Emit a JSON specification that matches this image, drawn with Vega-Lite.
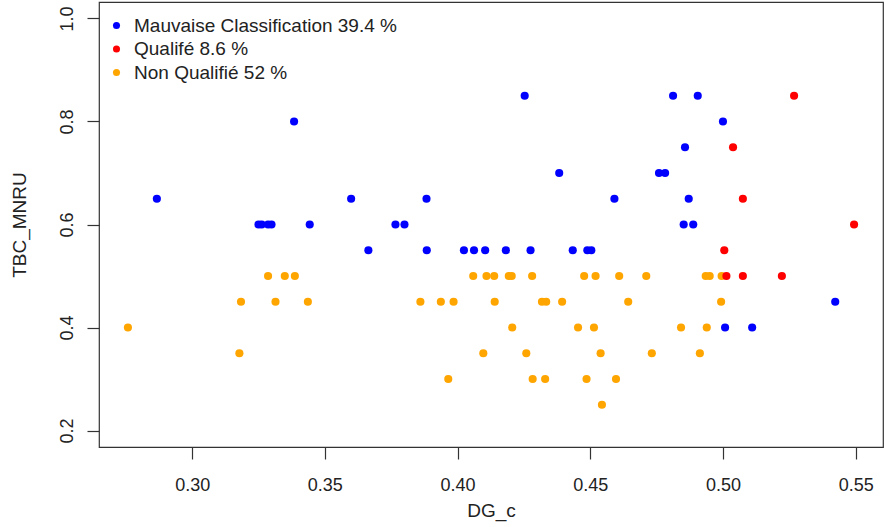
{
  "$schema": "https://vega.github.io/schema/vega-lite/v6.json",
  "autosize": {"type": "none"},
  "width": 784,
  "height": 445,
  "padding": {"left": 99, "top": 2, "right": 1, "bottom": 80},
  "background": "white",
  "config": {
    "view": {"stroke": "#333", "strokeWidth": 1.2},
    "font": "Liberation Sans",
    "axis": {
      "grid": false,
      "domain": false,
      "tickColor": "#333",
      "tickWidth": 1.2,
      "tickSize": 12,
      "labelFont": "Liberation Sans",
      "labelFontSize": 18,
      "labelColor": "#222",
      "titleFont": "Liberation Sans",
      "titleFontSize": 19,
      "titleFontWeight": "normal",
      "titleColor": "#222",
      "labelFlush": false,
      "labelOverlap": false
    }
  },
  "data": {
    "values": [
      {"DG_c": 0.4253, "TBC_MNRU": 0.85, "classe": "Mauvaise Classification"},
      {"DG_c": 0.4812, "TBC_MNRU": 0.85, "classe": "Mauvaise Classification"},
      {"DG_c": 0.4905, "TBC_MNRU": 0.85, "classe": "Mauvaise Classification"},
      {"DG_c": 0.3384, "TBC_MNRU": 0.8, "classe": "Mauvaise Classification"},
      {"DG_c": 0.5000, "TBC_MNRU": 0.8, "classe": "Mauvaise Classification"},
      {"DG_c": 0.4857, "TBC_MNRU": 0.75, "classe": "Mauvaise Classification"},
      {"DG_c": 0.4383, "TBC_MNRU": 0.7, "classe": "Mauvaise Classification"},
      {"DG_c": 0.4759, "TBC_MNRU": 0.7, "classe": "Mauvaise Classification"},
      {"DG_c": 0.4782, "TBC_MNRU": 0.7, "classe": "Mauvaise Classification"},
      {"DG_c": 0.2867, "TBC_MNRU": 0.65, "classe": "Mauvaise Classification"},
      {"DG_c": 0.3599, "TBC_MNRU": 0.65, "classe": "Mauvaise Classification"},
      {"DG_c": 0.3883, "TBC_MNRU": 0.65, "classe": "Mauvaise Classification"},
      {"DG_c": 0.4591, "TBC_MNRU": 0.65, "classe": "Mauvaise Classification"},
      {"DG_c": 0.4871, "TBC_MNRU": 0.65, "classe": "Mauvaise Classification"},
      {"DG_c": 0.3250, "TBC_MNRU": 0.6, "classe": "Mauvaise Classification"},
      {"DG_c": 0.3262, "TBC_MNRU": 0.6, "classe": "Mauvaise Classification"},
      {"DG_c": 0.3286, "TBC_MNRU": 0.6, "classe": "Mauvaise Classification"},
      {"DG_c": 0.3299, "TBC_MNRU": 0.6, "classe": "Mauvaise Classification"},
      {"DG_c": 0.3443, "TBC_MNRU": 0.6, "classe": "Mauvaise Classification"},
      {"DG_c": 0.3766, "TBC_MNRU": 0.6, "classe": "Mauvaise Classification"},
      {"DG_c": 0.3800, "TBC_MNRU": 0.6, "classe": "Mauvaise Classification"},
      {"DG_c": 0.4852, "TBC_MNRU": 0.6, "classe": "Mauvaise Classification"},
      {"DG_c": 0.4888, "TBC_MNRU": 0.6, "classe": "Mauvaise Classification"},
      {"DG_c": 0.3664, "TBC_MNRU": 0.55, "classe": "Mauvaise Classification"},
      {"DG_c": 0.3884, "TBC_MNRU": 0.55, "classe": "Mauvaise Classification"},
      {"DG_c": 0.4024, "TBC_MNRU": 0.55, "classe": "Mauvaise Classification"},
      {"DG_c": 0.4062, "TBC_MNRU": 0.55, "classe": "Mauvaise Classification"},
      {"DG_c": 0.4104, "TBC_MNRU": 0.55, "classe": "Mauvaise Classification"},
      {"DG_c": 0.4182, "TBC_MNRU": 0.55, "classe": "Mauvaise Classification"},
      {"DG_c": 0.4275, "TBC_MNRU": 0.55, "classe": "Mauvaise Classification"},
      {"DG_c": 0.4434, "TBC_MNRU": 0.55, "classe": "Mauvaise Classification"},
      {"DG_c": 0.4489, "TBC_MNRU": 0.55, "classe": "Mauvaise Classification"},
      {"DG_c": 0.4504, "TBC_MNRU": 0.55, "classe": "Mauvaise Classification"},
      {"DG_c": 0.5423, "TBC_MNRU": 0.45, "classe": "Mauvaise Classification"},
      {"DG_c": 0.5008, "TBC_MNRU": 0.4, "classe": "Mauvaise Classification"},
      {"DG_c": 0.5110, "TBC_MNRU": 0.4, "classe": "Mauvaise Classification"},
      {"DG_c": 0.3286, "TBC_MNRU": 0.5, "classe": "Non Qualifié"},
      {"DG_c": 0.3349, "TBC_MNRU": 0.5, "classe": "Non Qualifié"},
      {"DG_c": 0.3387, "TBC_MNRU": 0.5, "classe": "Non Qualifié"},
      {"DG_c": 0.4059, "TBC_MNRU": 0.5, "classe": "Non Qualifié"},
      {"DG_c": 0.4109, "TBC_MNRU": 0.5, "classe": "Non Qualifié"},
      {"DG_c": 0.4138, "TBC_MNRU": 0.5, "classe": "Non Qualifié"},
      {"DG_c": 0.4193, "TBC_MNRU": 0.5, "classe": "Non Qualifié"},
      {"DG_c": 0.4204, "TBC_MNRU": 0.5, "classe": "Non Qualifié"},
      {"DG_c": 0.4281, "TBC_MNRU": 0.5, "classe": "Non Qualifié"},
      {"DG_c": 0.4477, "TBC_MNRU": 0.5, "classe": "Non Qualifié"},
      {"DG_c": 0.4520, "TBC_MNRU": 0.5, "classe": "Non Qualifié"},
      {"DG_c": 0.4609, "TBC_MNRU": 0.5, "classe": "Non Qualifié"},
      {"DG_c": 0.4711, "TBC_MNRU": 0.5, "classe": "Non Qualifié"},
      {"DG_c": 0.4935, "TBC_MNRU": 0.5, "classe": "Non Qualifié"},
      {"DG_c": 0.4950, "TBC_MNRU": 0.5, "classe": "Non Qualifié"},
      {"DG_c": 0.4995, "TBC_MNRU": 0.5, "classe": "Non Qualifié"},
      {"DG_c": 0.3184, "TBC_MNRU": 0.45, "classe": "Non Qualifié"},
      {"DG_c": 0.3314, "TBC_MNRU": 0.45, "classe": "Non Qualifié"},
      {"DG_c": 0.3436, "TBC_MNRU": 0.45, "classe": "Non Qualifié"},
      {"DG_c": 0.3860, "TBC_MNRU": 0.45, "classe": "Non Qualifié"},
      {"DG_c": 0.3937, "TBC_MNRU": 0.45, "classe": "Non Qualifié"},
      {"DG_c": 0.3985, "TBC_MNRU": 0.45, "classe": "Non Qualifié"},
      {"DG_c": 0.4140, "TBC_MNRU": 0.45, "classe": "Non Qualifié"},
      {"DG_c": 0.4318, "TBC_MNRU": 0.45, "classe": "Non Qualifié"},
      {"DG_c": 0.4334, "TBC_MNRU": 0.45, "classe": "Non Qualifié"},
      {"DG_c": 0.4394, "TBC_MNRU": 0.45, "classe": "Non Qualifié"},
      {"DG_c": 0.4643, "TBC_MNRU": 0.45, "classe": "Non Qualifié"},
      {"DG_c": 0.4993, "TBC_MNRU": 0.45, "classe": "Non Qualifié"},
      {"DG_c": 0.2758, "TBC_MNRU": 0.4, "classe": "Non Qualifié"},
      {"DG_c": 0.4206, "TBC_MNRU": 0.4, "classe": "Non Qualifié"},
      {"DG_c": 0.4454, "TBC_MNRU": 0.4, "classe": "Non Qualifié"},
      {"DG_c": 0.4514, "TBC_MNRU": 0.4, "classe": "Non Qualifié"},
      {"DG_c": 0.4842, "TBC_MNRU": 0.4, "classe": "Non Qualifié"},
      {"DG_c": 0.4939, "TBC_MNRU": 0.4, "classe": "Non Qualifié"},
      {"DG_c": 0.3178, "TBC_MNRU": 0.35, "classe": "Non Qualifié"},
      {"DG_c": 0.4097, "TBC_MNRU": 0.35, "classe": "Non Qualifié"},
      {"DG_c": 0.4259, "TBC_MNRU": 0.35, "classe": "Non Qualifié"},
      {"DG_c": 0.4539, "TBC_MNRU": 0.35, "classe": "Non Qualifié"},
      {"DG_c": 0.4732, "TBC_MNRU": 0.35, "classe": "Non Qualifié"},
      {"DG_c": 0.4913, "TBC_MNRU": 0.35, "classe": "Non Qualifié"},
      {"DG_c": 0.3965, "TBC_MNRU": 0.3, "classe": "Non Qualifié"},
      {"DG_c": 0.4283, "TBC_MNRU": 0.3, "classe": "Non Qualifié"},
      {"DG_c": 0.4330, "TBC_MNRU": 0.3, "classe": "Non Qualifié"},
      {"DG_c": 0.4486, "TBC_MNRU": 0.3, "classe": "Non Qualifié"},
      {"DG_c": 0.4597, "TBC_MNRU": 0.3, "classe": "Non Qualifié"},
      {"DG_c": 0.4544, "TBC_MNRU": 0.25, "classe": "Non Qualifié"},
      {"DG_c": 0.5268, "TBC_MNRU": 0.85, "classe": "Qualifé"},
      {"DG_c": 0.5038, "TBC_MNRU": 0.75, "classe": "Qualifé"},
      {"DG_c": 0.5075, "TBC_MNRU": 0.65, "classe": "Qualifé"},
      {"DG_c": 0.5494, "TBC_MNRU": 0.6, "classe": "Qualifé"},
      {"DG_c": 0.5005, "TBC_MNRU": 0.55, "classe": "Qualifé"},
      {"DG_c": 0.5013, "TBC_MNRU": 0.5, "classe": "Qualifé"},
      {"DG_c": 0.5075, "TBC_MNRU": 0.5, "classe": "Qualifé"},
      {"DG_c": 0.5222, "TBC_MNRU": 0.5, "classe": "Qualifé"}
    ]
  },
  "mark": {"type": "point", "filled": true, "opacity": 1, "size": 66, "shape": "circle"},
  "encoding": {
    "x": {
      "field": "DG_c",
      "type": "quantitative",
      "scale": {"domain": [0.2649, 0.5603], "nice": false, "zero": false},
      "axis": {
        "title": "DG_c",
        "values": [0.30, 0.35, 0.40, 0.45, 0.50, 0.55],
        "format": ".2f",
        "labelBaseline": "alphabetic",
        "labelPadding": 31,
        "titleBaseline": "alphabetic",
        "titleY": 69,
        "titleX": 392
      }
    },
    "y": {
      "field": "TBC_MNRU",
      "type": "quantitative",
      "scale": {"domain": [0.168, 1.032], "nice": false, "zero": false},
      "axis": {
        "title": "TBC_MNRU",
        "values": [0.2, 0.4, 0.6, 0.8, 1.0],
        "format": ".1f",
        "labelAngle": -90,
        "labelAlign": "center",
        "labelBaseline": "alphabetic",
        "labelPadding": 15,
        "titleAngle": -90,
        "titleAlign": "center",
        "titleBaseline": "alphabetic",
        "titleX": -74,
        "titleY": 222.5
      }
    },
    "color": {
      "field": "classe",
      "type": "nominal",
      "scale": {
        "domain": ["Mauvaise Classification", "Qualifé", "Non Qualifié"],
        "range": ["#0000FF", "#FF0000", "#FFA500"]
      },
      "legend": {
        "title": null,
        "orient": "none",
        "legendX": 8,
        "legendY": 14,
        "padding": 0,
        "labelFont": "Liberation Sans",
        "labelFontSize": 19,
        "labelColor": "#222",
        "labelLimit": 0,
        "symbolType": "circle",
        "symbolSize": 50,
        "symbolStrokeWidth": 0,
        "labelOffset": 8,
        "rowPadding": 3.5,
        "labelExpr": "datum.label == 'Mauvaise Classification' ? 'Mauvaise Classification 39.4 %' : datum.label == 'Qualifé' ? 'Qualifé 8.6 %' : 'Non Qualifié 52 %'"
      }
    },
    "order": {"value": 0}
  }
}
